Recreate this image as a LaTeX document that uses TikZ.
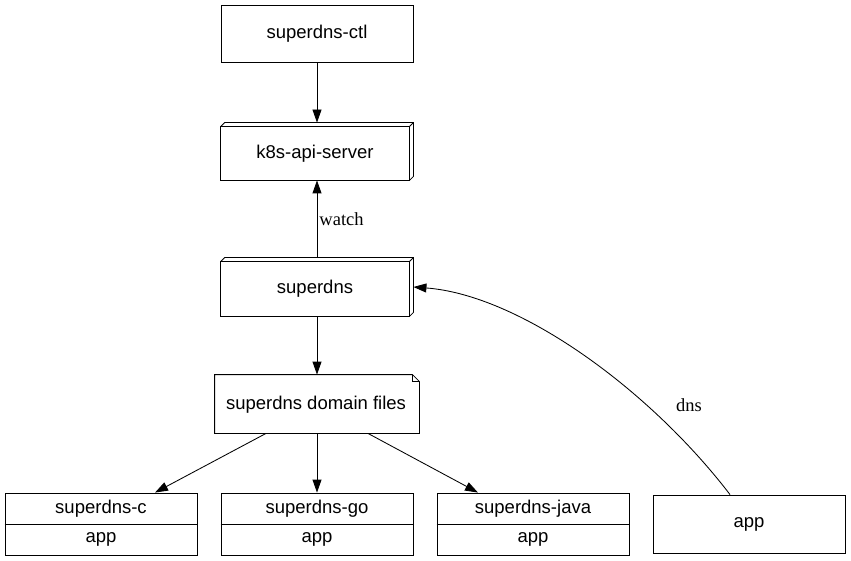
\documentclass[tikz,border=0pt]{standalone}
\usepackage{fontspec}
\setmainfont{Liberation Sans}
\newfontfamily\seriflbl{Liberation Serif}
\usetikzlibrary{arrows.meta,calc}
\begin{document}
\begin{tikzpicture}[x=1pt,y=-1pt,line width=0.85pt,
  every node/.style={font=\fontsize{18.5}{22}\selectfont},
  box/.style={draw,minimum width=192pt,minimum height=57pt,inner sep=0pt},
  frame/.style={minimum width=#1,inner sep=0pt},
  txt/.style={inner sep=0pt},
  lbl/.style={font=\seriflbl\fontsize{18.5}{22}\selectfont,inner sep=2pt},
  arr/.style={-{Triangle[length=13pt,width=9pt]}}]
\useasboundingbox (0,0) rectangle (851,561);
% superdns-ctl
\node[box] (ctl) at (317,33.5) {superdns-ctl};
% k8s-api-server (box3d)
\node[frame=192pt,minimum height=57pt] (k) at (317,151.5) {};
\node[txt] (kt) at (315,153.5) {k8s-api-server};
\draw (k.south west) rectangle ($(k.north east)+(-4,4)$);
\draw ($(k.north west)+(0,4)$) -- ++(4,-4) -- (k.north east) -- ($(k.south east)+(0,-4)$) -- ++(-4,4);
\draw ($(k.north east)+(-4,4)$) -- (k.north east);
% superdns (box3d)
\node[frame=192pt,minimum height=58pt] (s) at (317,287) {};
\node[txt] (st) at (315,289) {superdns};
\draw (s.south west) rectangle ($(s.north east)+(-4,4)$);
\draw ($(s.north west)+(0,4)$) -- ++(4,-4) -- (s.north east) -- ($(s.south east)+(0,-4)$) -- ++(-4,4);
\draw ($(s.north east)+(-4,4)$) -- (s.north east);
% domain files (note)
\node[frame=204pt,minimum height=58pt] (f) at (317,404) {};
\node[txt] (ft) at (316,405) {superdns domain files};
\draw (f.south west) -- (f.north west) -- ($(f.north east)+(-7,0)$) -- ($(f.north east)+(0,7)$) -- (f.south east) -- cycle;
\draw ($(f.north east)+(-7,0)$) -- ++(0,7) -- ($(f.north east)+(0,7)$);
% records
\node[box,minimum height=62pt] (c) at (101,524) {};
\draw (c.west) -- (c.east);
\node[txt] (ct) at (101,508.5) {superdns-c};
\node[txt] (ca) at (101,539.5) {app};
\node[box,minimum height=62pt] (g) at (317,524) {};
\draw (g.west) -- (g.east);
\node[txt] (gt) at (317,508.5) {superdns-go};
\node[txt] (ga) at (317,539.5) {app};
\node[box,minimum height=62pt] (j) at (533,524) {};
\draw (j.west) -- (j.east);
\node[txt] (jt) at (533,508.5) {superdns-java};
\node[txt] (ja) at (533,539.5) {app};
% app
\node[box,minimum height=58pt] (a) at (749,524) {app};
% edges
\draw[arr] (ctl) -- (k);
\draw[arr] (s) -- node[right,lbl] {watch} (k);
\draw[arr] (s) -- (f);
\draw[arr] ($(f.south)+(-51,0)$) -- ($(c.north)+(54,0)$);
\draw[arr] (f) -- (g);
\draw[arr] ($(f.south)+(51,0)$) -- ($(j.north)+(-55,0)$);
\draw[arr] ($(a.north)+(-19,0)$) .. controls (650,390) and (520,295) .. (s.east);
\node[lbl] (dns) at (689,405) {dns};
\end{tikzpicture}
\end{document}
